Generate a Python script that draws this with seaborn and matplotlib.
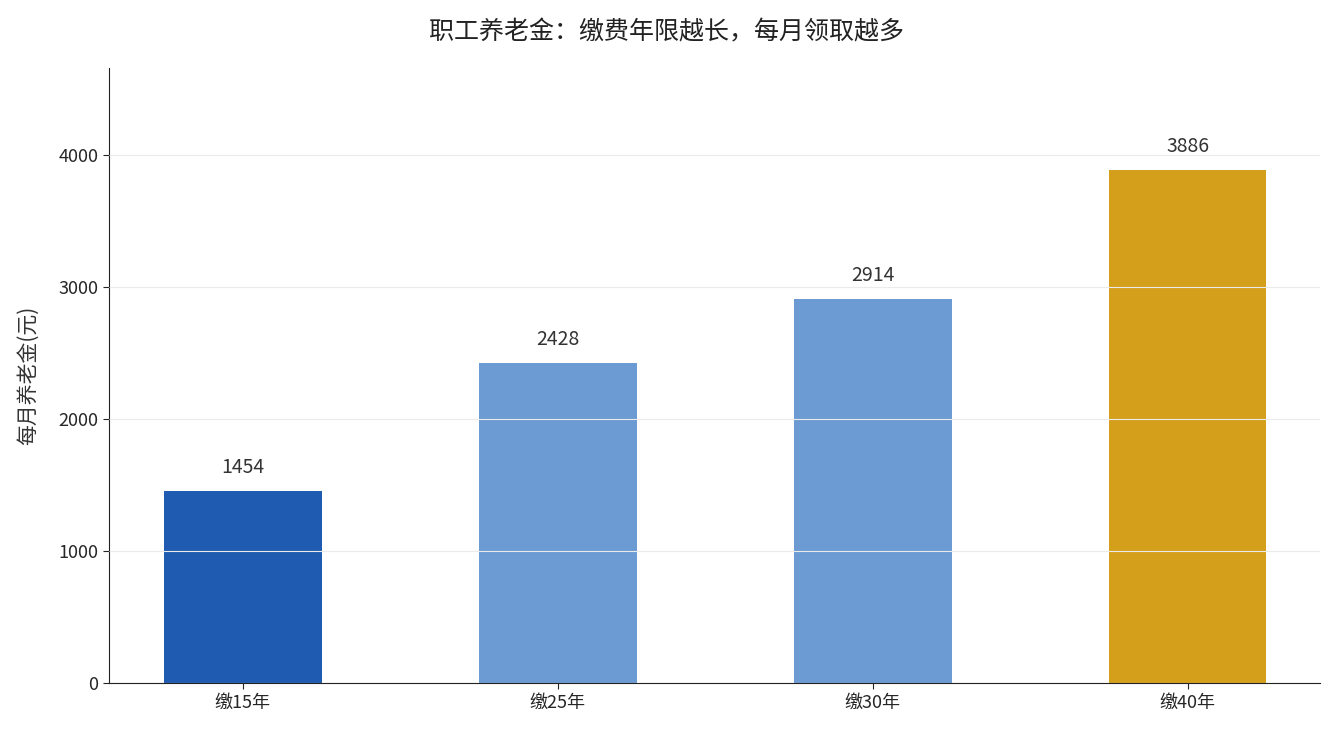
import matplotlib
matplotlib.use("Agg")
import matplotlib.pyplot as plt
import seaborn as sns
import pandas as pd

categories = ["缴15年", "缴25年", "缴30年", "缴40年"]
values = [1454, 2428, 2914, 3886]
colors = ["#1f5bb0", "#6b9bd2", "#6b9bd2", "#d4a01c"]

sns.set_style("white")
plt.rcParams['font.family'] = ['Noto Sans CJK SC', 'DejaVu Sans']

df = pd.DataFrame({"cat": categories, "val": values})
fig = plt.figure(figsize=(13.34, 7.35), dpi=100)
ax = fig.add_axes([109/1334, 1-683/735, (1320-109)/1334, (683-68)/735])
sns.barplot(data=df, x="cat", y="val", hue="cat", palette=colors, width=0.5,
            legend=False, ax=ax, saturation=1, linewidth=0)
ax.set_xlim(-0.425, 3.42)
ax.set_ylim(0, max(values) * 1.2)
ax.set_yticks([0, 1000, 2000, 3000, 4000])
ax.yaxis.grid(True, color="#ebebeb", linewidth=0.8)
ax.set_axisbelow(False)
for i, v in enumerate(values):
    ax.text(i, v + 100, str(v), ha="center", va="bottom", fontsize=14, color="#333333")
ax.set_xlabel("")
ax.set_ylabel("每月养老金(元)", fontsize=15, color="#333333", labelpad=14)
ax.tick_params(axis="both", labelsize=13, length=4, left=True, bottom=True)
for s in ["top", "right"]:
    ax.spines[s].set_visible(False)
for s in ["left", "bottom"]:
    ax.spines[s].set_color("#222222")
fig.suptitle("职工养老金：缴费年限越长，每月领取越多", fontsize=18, y=0.973, color="#222222")
fig.savefig("out.png", dpi=100)
